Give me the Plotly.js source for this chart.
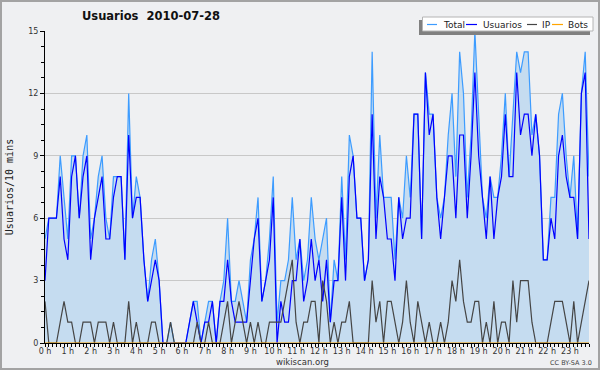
<!DOCTYPE html>
<html>
<head>
<meta charset="utf-8">
<script src="https://cdn.plot.ly/plotly-3.0.1.min.js"></script>
<style>
  html, body { margin: 0; padding: 0; background: #eff0f2; }
  #chart { width: 600px; height: 370px; }
</style>
</head>
<body>
<div id="chart"></div>
<script>
// 10-minute slots over the day (0 h .. 23 h 50)
const hourLabels = ["0 h","1 h","2 h","3 h","4 h","5 h","6 h","7 h","8 h","9 h","10 h","11 h",
                    "12 h","13 h","14 h","15 h","16 h","17 h","18 h","19 h","20 h","21 h","22 h","23 h"];

const total = [5,6,6,6,9,7,5,9,9,6, 9,10,5,6,8,9,6,5,8,8, 8,4,12,6,8,7,4,2,4,5,
               3,0,0,1,0,0,0,0,1,2, 2,0,1,2,2,0,2,3,6,2, 2,3,2,1,4,5,7,2,3,5,
               8,1,3,3,4,7,4,5,3,4, 7,5,4,5,6,1,4,3,8,4, 10,9,6,6,3,4,14,6,10,7,
               7,7,4,7,6,9,7,11,11,5, 13,11,11,7,6,7,10,12,8,14, 12,7,10,15,11,7,6,8,7,7,
               9,12,8,11,14,13,14,14,10,11, 9,4,4,7,7,11,12,9,7,9, 5,12,14,8];

const usuarios = [3,6,6,6,8,5,4,8,9,6, 8,9,4,6,7,8,5,5,7,8, 8,4,10,6,7,7,4,2,3,4,
                  3,0,0,0,0,0,0,0,1,2, 1,0,1,1,2,0,2,2,4,2, 1,1,1,1,3,5,6,2,3,4,
                  7,0,2,1,1,3,3,5,2,3, 5,3,4,2,4,1,3,3,7,3, 8,9,6,6,3,4,11,5,8,7,
                  5,5,3,7,5,6,6,11,11,5, 13,10,11,7,5,7,9,9,6,10, 10,6,9,13,9,7,5,8,5,7,
                  8,11,8,8,13,10,11,11,9,11, 9,4,4,6,5,9,10,8,7,7, 5,12,13,5];

const ip = [2,0,0,0,1,2,1,1,0,0, 1,1,1,0,1,1,1,0,1,0, 0,0,2,0,1,0,0,0,1,1,
            0,0,0,1,0,0,0,0,0,0, 1,0,0,1,0,0,0,1,2,0, 1,2,1,0,1,0,1,0,0,1,
            1,1,1,2,3,4,1,0,1,1, 2,2,0,3,2,0,1,0,1,1, 2,0,0,0,0,0,3,1,2,0,
            2,2,1,0,1,3,1,0,2,1, 0,1,0,0,1,0,1,3,2,4, 2,1,1,2,2,0,1,0,2,0,
            1,1,0,3,1,3,3,3,1,0, 0,0,0,1,2,2,2,1,0,2, 0,1,2,3];

const bots = total.map(() => 0);

const slots = total.map((_, i) => i);
const hourSlots = hourLabels.map((_, h) => h * 6);

const colors = { total: '#3d9cff', fill: '#c5dcf0', usuarios: '#0000ff', ip: '#454545', bots: '#ffa500' };

// geometry helpers (pixel -> paper coordinates)
const W = 600, H = 370, L = 45, R = 11, T = 31, B = 27;
const PW = W - L - R, PH = H - T - B;
const px = x => (x - L) / PW;
const py = y => (H - B - y) / PH;

const traces = [
  { x: slots, y: total, type: 'scatter', mode: 'lines', name: 'Total',
    line: { color: colors.total, width: 1.2 }, fill: 'tozeroy', fillcolor: colors.fill },
  { x: slots, y: usuarios, type: 'scatter', mode: 'lines', name: 'Usuarios',
    line: { color: colors.usuarios, width: 1.2 } },
  { x: slots, y: ip, type: 'scatter', mode: 'lines', name: 'IP',
    line: { color: colors.ip, width: 1.2 } },
  { x: slots, y: bots, type: 'scatter', mode: 'lines', name: 'Bots',
    line: { color: colors.bots, width: 1 } }
];

const legendItems = [
  { name: 'Total', color: colors.total, l0: 427, l1: 437, tx: 442 },
  { name: 'Usuarios', color: colors.usuarios, l0: 466, l1: 477, tx: 482 },
  { name: 'IP', color: colors.ip, l0: 527, l1: 537, tx: 541 },
  { name: 'Bots', color: colors.bots, l0: 552, l1: 563, tx: 567 }
];
const legY = 24.5;

const shapes = [
  // outer frame of the image
  { type: 'rect', xref: 'paper', yref: 'paper', x0: px(1), x1: px(599), y0: py(369), y1: py(1),
    line: { color: '#a3a3a3', width: 2 }, layer: 'above' },
  // legend shadow
  { type: 'rect', xref: 'paper', yref: 'paper', x0: px(419), x1: px(590), y0: py(35), y1: py(20),
    fillcolor: '#808080', line: { width: 0 }, layer: 'above' },
  // legend box
  { type: 'rect', xref: 'paper', yref: 'paper', x0: px(422.5), x1: px(593), y0: py(31), y1: py(17),
    fillcolor: '#ffffff', line: { color: '#b4b4b4', width: 1 }, layer: 'above' }
];
const annotations = [
  { text: 'wikiscan.org', xref: 'paper', yref: 'paper', x: px(302), y: py(362),
    xanchor: 'center', yanchor: 'middle', showarrow: false, borderpad: 0,
    font: { family: 'DejaVu Sans', size: 8.5, color: '#333' } },
  { text: 'CC BY-SA 3.0', xref: 'paper', yref: 'paper', x: px(593), y: py(363),
    xanchor: 'right', yanchor: 'middle', showarrow: false, borderpad: 0,
    font: { family: 'DejaVu Sans', size: 6.5, color: '#444' } }
];
legendItems.forEach(it => {
  shapes.push({ type: 'line', xref: 'paper', yref: 'paper', x0: px(it.l0), x1: px(it.l1),
    y0: py(legY), y1: py(legY), line: { color: it.color, width: 1.2 }, layer: 'above' });
  annotations.push({ text: it.name, xref: 'paper', yref: 'paper', x: px(it.tx), y: py(legY),
    xanchor: 'left', yanchor: 'middle', showarrow: false, borderpad: 0,
    font: { family: 'DejaVu Sans', size: 9, color: '#222' } });
});

const layout = {
  width: W, height: H,
  margin: { l: L, r: R, t: T, b: B, pad: 0 },
  paper_bgcolor: '#eff0f2', plot_bgcolor: '#eff0f2',
  showlegend: false, hovermode: false,
  title: { text: 'Usuarios\u00a0\u00a02010-07-28', xref: 'container', yref: 'container',
    x: 151 / W, y: 1 - 16 / H, xanchor: 'center', yanchor: 'middle',
    font: { family: 'DejaVu Sans', size: 11.5, color: '#111', weight: 'bold' } },
  xaxis: {
    range: [0, 143], tickmode: 'array', tickvals: hourSlots, ticktext: hourLabels,
    ticks: 'outside', ticklen: 3, tickwidth: 1, tickcolor: '#000', ticklabelstandoff: -3,
    showline: true, linecolor: '#000', linewidth: 1, showgrid: false, zeroline: false,
    tickfont: { family: 'DejaVu Sans', size: 8, color: '#333' },
    minor: { dtick: 1, tick0: 0, ticks: 'outside', ticklen: 2.5, tickcolor: '#000', showgrid: false },
    fixedrange: true, automargin: false
  },
  yaxis: {
    range: [0, 15], tick0: 0, dtick: 3,
    ticks: 'outside', ticklen: 4, tickwidth: 1, tickcolor: '#000',
    showline: true, linecolor: '#000', linewidth: 1,
    showgrid: true, gridcolor: '#c8c8c8', gridwidth: 1, zeroline: false,
    tickfont: { family: 'DejaVu Sans', size: 8, color: '#333' },
    minor: { dtick: 0.75, tick0: 0, ticks: 'outside', ticklen: 3, tickcolor: '#000', showgrid: false },
    title: { text: 'Usuarios/10 mins', standoff: 12,
      font: { family: 'DejaVu Sans Mono', size: 10, color: '#222' } },
    fixedrange: true, automargin: false
  },
  shapes: shapes,
  annotations: annotations
};

Plotly.newPlot('chart', traces, layout, { staticPlot: true, displayModeBar: false });
</script>
</body>
</html>
